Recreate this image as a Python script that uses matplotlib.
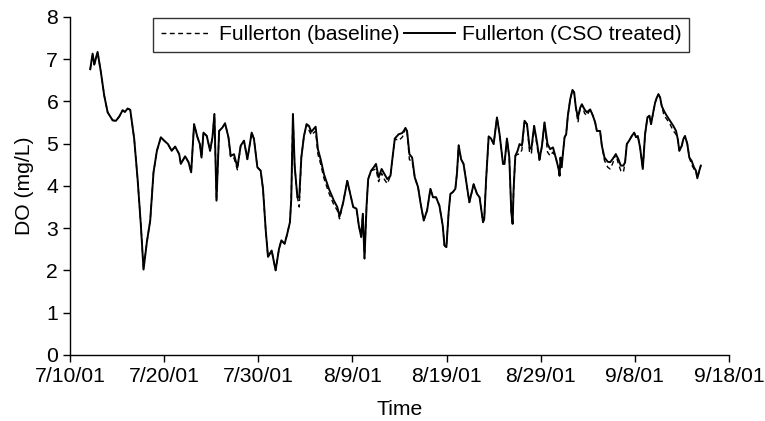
import matplotlib
matplotlib.use("Agg")
import matplotlib.pyplot as plt
from datetime import datetime, timedelta

plt.rcParams['font.family'] = ['Liberation Sans', 'DejaVu Sans']

start_date = datetime(2001, 7, 10)
tick_labels = ['7/10/01', '7/20/01', '7/30/01', '8/9/01', '8/19/01', '8/29/01', '9/8/01', '9/18/01']
y_ticks = [0, 1, 2, 3, 4, 5, 6, 7, 8]

# days after 7/10/01
days = [2.15, 2.40, 2.58, 2.93, 3.29, 3.64, 4.00, 4.53, 4.88, 5.23,
        5.59, 5.83, 6.12, 6.40, 6.82, 7.18, 7.53, 7.81, 8.17, 8.52,
        8.87, 9.23, 9.65, 10.00, 10.40, 10.80, 11.17, 11.60, 11.77, 12.23,
        12.59, 12.87, 13.18, 13.54, 13.79, 13.97, 14.18, 14.53, 14.88, 15.13,
        15.34, 15.56, 15.84, 16.19, 16.47, 16.83, 17.07, 17.42, 17.78, 18.13,
        18.48, 18.84, 19.30, 19.54, 19.90, 20.25, 20.50, 20.78, 21.03, 21.42,
        21.84, 22.20, 22.45, 22.80, 23.08, 23.36, 23.50, 23.68, 23.86, 24.15,
        24.35, 24.57, 24.85, 25.13, 25.38, 25.63, 26.09, 26.33, 26.62, 26.97,
        27.50, 28.03, 28.39, 28.63, 29.02, 29.45, 29.80, 30.08, 30.43, 30.68,
        30.93, 31.10, 31.28, 31.50, 31.67, 31.98, 32.26, 32.50, 32.78, 33.10,
        33.40, 33.70, 34.04, 34.20, 34.50, 34.90, 35.28, 35.45, 35.63, 35.80,
        36.05, 36.34, 36.62, 36.97, 37.22, 37.57, 37.93, 38.28, 38.56, 38.88,
        39.24, 39.59, 39.77, 39.98, 40.22, 40.40, 40.65, 40.93, 41.11, 41.28,
        41.54, 41.80, 42.10, 42.42, 42.87, 43.23, 43.50, 43.87, 44.00, 44.20,
        44.47, 44.72, 45.00, 45.35, 45.63, 45.99, 46.15, 46.41, 46.66, 46.87,
        47.01, 47.12, 47.30, 47.54, 47.75, 48.00, 48.28, 48.54, 48.81, 49.00,
        49.30, 49.60, 49.87, 50.13, 50.40, 50.72, 51.00, 51.30, 51.64, 51.90,
        52.00, 52.10, 52.22, 52.35, 52.53, 52.70, 52.88, 53.13, 53.37, 53.55,
        53.73, 53.95, 54.19, 54.37, 54.65, 54.90, 55.25, 55.54, 55.78, 55.96,
        56.30, 56.49, 56.77, 57.12, 57.37, 57.62, 57.97, 58.25, 58.50, 58.78,
        58.96, 59.14, 59.39, 59.67, 59.92, 60.13, 60.31, 60.55, 60.84, 61.08,
        61.33, 61.54, 61.72, 61.97, 62.15, 62.33, 62.50, 62.68, 62.85, 63.10,
        63.38, 63.73, 64.08, 64.37, 64.55, 64.72, 64.98, 65.15, 65.32, 65.57,
        65.78, 66.03, 66.27, 66.48, 66.63, 66.84, 67.00]

cso_treated = [6.76, 7.13, 6.87, 7.17, 6.68, 6.13, 5.74, 5.55, 5.54, 5.64,
               5.79, 5.75, 5.83, 5.80, 5.11, 4.16, 3.06, 2.02, 2.68, 3.18,
               4.32, 4.83, 5.15, 5.07, 4.99, 4.83, 4.93, 4.75, 4.52, 4.70,
               4.56, 4.32, 5.46, 5.15, 4.99, 4.67, 5.26, 5.18, 4.83, 5.15,
               5.70, 3.65, 5.30, 5.38, 5.48, 5.15, 4.71, 4.75, 4.44, 4.95,
               5.07, 4.63, 5.26, 5.11, 4.44, 4.36, 3.93, 2.98, 2.32, 2.47,
               2.00, 2.51, 2.71, 2.63, 2.87, 3.14, 3.69, 5.70, 4.48, 3.73,
               3.73, 4.67, 5.18, 5.46, 5.42, 5.28, 5.40, 4.87, 4.63, 4.28,
               3.93, 3.65, 3.50, 3.28, 3.61, 4.12, 3.77, 3.50, 3.46, 3.06,
               2.79, 3.34, 2.28, 3.53, 4.16, 4.36, 4.44, 4.52, 4.20, 4.40,
               4.28, 4.16, 4.24, 4.56, 5.12, 5.22, 5.25, 5.30, 5.37, 5.30,
               4.75, 4.67, 4.20, 3.97, 3.61, 3.18, 3.42, 3.93, 3.73, 3.73,
               3.53, 3.06, 2.59, 2.55, 3.38, 3.81, 3.85, 3.93, 4.32, 4.96,
               4.63, 4.52, 4.08, 3.61, 4.04, 3.81, 3.73, 3.14, 3.22, 4.16,
               5.17, 5.12, 4.99, 5.62, 5.22, 4.52, 4.52, 5.12, 4.67, 3.38,
               3.10, 3.93, 4.71, 4.83, 4.99, 4.95, 5.54, 5.46, 4.91, 4.87,
               5.42, 5.03, 4.63, 4.95, 5.50, 4.99, 4.87, 4.91, 4.63, 4.40,
               4.24, 4.67, 4.44, 4.75, 5.15, 5.22, 5.66, 6.05, 6.27, 6.21,
               5.85, 5.62, 5.85, 5.93, 5.81, 5.74, 5.81, 5.66, 5.50, 5.30,
               5.30, 4.95, 4.67, 4.57, 4.56, 4.63, 4.75, 4.63, 4.48, 4.48,
               4.56, 4.99, 5.07, 5.18, 5.26, 5.15, 5.18, 4.91, 4.40, 5.22,
               5.62, 5.66, 5.46, 5.77, 5.97, 6.09, 6.17, 6.09, 5.89, 5.77,
               5.66, 5.54, 5.42, 5.30, 5.11, 4.83, 4.95, 5.11, 5.18, 4.99,
               4.67, 4.59, 4.44, 4.36, 4.18, 4.36, 4.48]

baseline = [6.76, 7.13, 6.87, 7.17, 6.68, 6.13, 5.74, 5.55, 5.54, 5.64,
            5.79, 5.75, 5.83, 5.80, 5.11, 4.16, 3.06, 2.02, 2.68, 3.18,
            4.32, 4.83, 5.15, 5.07, 4.99, 4.83, 4.93, 4.75, 4.52, 4.70,
            4.56, 4.32, 5.46, 5.15, 4.99, 4.67, 5.26, 5.18, 4.83, 5.15,
            5.70, 3.65, 5.30, 5.38, 5.48, 5.15, 4.66, 4.66, 4.38, 4.95,
            5.07, 4.63, 5.26, 5.11, 4.44, 4.36, 3.93, 2.98, 2.32, 2.47,
            2.00, 2.51, 2.71, 2.63, 2.87, 3.14, 3.69, 5.70, 4.48, 3.73,
            3.50, 4.67, 5.18, 5.46, 5.32, 5.20, 5.30, 4.75, 4.52, 4.18,
            3.83, 3.55, 3.42, 3.22, 3.61, 4.12, 3.77, 3.50, 3.46, 3.06,
            2.79, 3.34, 2.28, 3.53, 4.16, 4.36, 4.38, 4.40, 4.10, 4.30,
            4.15, 4.05, 4.24, 4.56, 5.12, 5.07, 5.15, 5.22, 5.37, 5.30,
            4.62, 4.58, 4.20, 3.97, 3.61, 3.18, 3.42, 3.93, 3.73, 3.73,
            3.53, 3.06, 2.59, 2.55, 3.38, 3.81, 3.85, 3.93, 4.32, 4.96,
            4.63, 4.52, 4.08, 3.61, 4.04, 3.81, 3.73, 3.14, 3.22, 4.16,
            5.17, 5.12, 4.99, 5.62, 5.22, 4.52, 4.52, 5.12, 4.67, 3.38,
            3.10, 3.93, 4.71, 4.75, 4.75, 4.85, 5.54, 5.46, 4.80, 4.75,
            5.42, 4.95, 4.56, 4.95, 5.50, 4.80, 4.71, 4.80, 4.63, 4.40,
            4.24, 4.67, 4.44, 4.75, 5.15, 5.22, 5.66, 6.05, 6.27, 6.21,
            5.85, 5.50, 5.85, 5.93, 5.72, 5.66, 5.81, 5.66, 5.50, 5.30,
            5.30, 4.95, 4.60, 4.44, 4.40, 4.52, 4.75, 4.52, 4.36, 4.32,
            4.56, 4.99, 5.07, 5.18, 5.26, 5.15, 5.18, 4.91, 4.40, 5.22,
            5.62, 5.66, 5.46, 5.77, 5.97, 6.09, 6.17, 6.09, 5.89, 5.66,
            5.58, 5.46, 5.30, 5.22, 5.11, 4.83, 4.95, 5.11, 5.18, 4.99,
            4.67, 4.50, 4.40, 4.36, 4.18, 4.36, 4.48]

series_names = ['Fullerton (baseline)', 'Fullerton (CSO treated)']

times = [start_date + timedelta(days=d) for d in days]

fig = plt.figure(figsize=(7.65, 4.21), dpi=100)
ax = fig.add_axes([0.0915, 0.157, 0.8615, 0.803])

ax.plot(times, baseline, color='black', lw=1.0, ls=(0, (3.5, 2.5)), label=series_names[0])
ax.plot(times, cso_treated, color='black', lw=1.4, ls='-', label=series_names[1])

tick_dates = [start_date + timedelta(days=10 * i) for i in range(len(tick_labels))]
ax.set_xlim(tick_dates[0], tick_dates[-1])
ax.set_xticks(tick_dates)
ax.set_xticklabels(tick_labels)
ax.set_ylim(0, 8)
ax.set_yticks(y_ticks)

for s in ['top', 'right']:
    ax.spines[s].set_visible(False)
for s in ['left', 'bottom']:
    ax.spines[s].set_linewidth(1.0)
    ax.spines[s].set_color('black')

fs = 15.2
ax.tick_params(axis='both', direction='out', length=5, width=1.0, labelsize=fs, colors='black')
ax.tick_params(axis='x', pad=4)
ax.set_xlabel('Time', fontsize=fs, labelpad=10)
ax.set_ylabel('DO (mg/L)', fontsize=fs, labelpad=9)

leg = ax.legend(loc='upper center', bbox_to_anchor=(0.533, 0.997), ncol=2, frameon=True,
                fancybox=False, edgecolor='black', fontsize=fs, handlelength=2.4,
                handletextpad=0.35, columnspacing=0.25, borderpad=0.35, borderaxespad=0.0)
leg.get_frame().set_linewidth(1.0)

fig.savefig('out.png', dpi=100)
